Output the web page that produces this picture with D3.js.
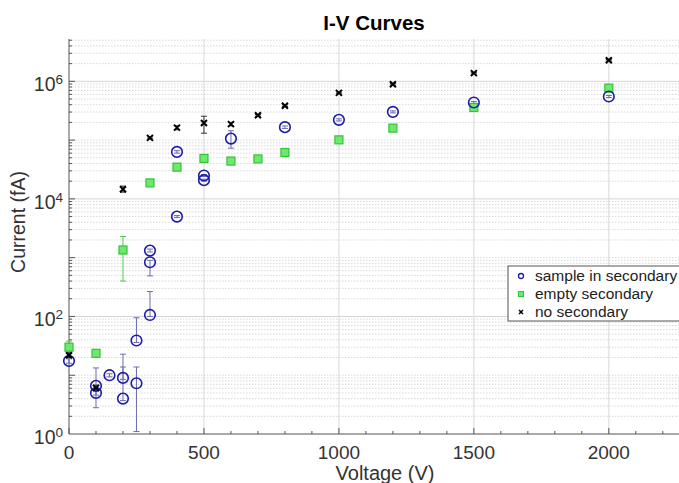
<!DOCTYPE html>
<html>
<head>
<meta charset="utf-8">
<script src="https://cdn.jsdelivr.net/npm/d3@7"></script>
<style>
  body { margin: 0; background: #fff; }
  svg { font-family: "Liberation Sans", Arial, sans-serif; }
</style>
</head>
<body>
<div id="chart"></div>
<script>
  const width = 679, height = 483;

  // sample in secondary
  const sampleV  = [0, 100, 100, 150, 200, 200, 250, 250, 300, 300, 300, 400, 400, 500, 500, 600, 800, 1000, 1200, 1500, 2000];
  const sampleI  = [17.5, 6.6, 5.0, 10, 9.0, 4.0, 39, 7.3, 1320, 835, 106, 63000, 5000, 25000, 20800, 106000, 166000, 221000, 302000, 436000, 552000];
  const sampleLo = [16, 2.8, 4.6, 9.4, 8.5, 3.7, 36, 1.1, 1250, 490, 100, 60000, 4800, 24000, 20000, 73000, 158000, 212000, 290000, 420000, 530000];
  const sampleHi = [19, 13.3, 5.4, 10.6, 22.8, 13.8, 95, 13.8, 1400, 900, 265, 66000, 5200, 26000, 21600, 144000, 174000, 230000, 314000, 452000, 574000];

  // empty secondary
  const emptyV  = [0, 100, 200, 300, 400, 500, 600, 700, 800, 1000, 1200, 1500, 2000];
  const emptyI  = [30, 23.6, 1350, 18700, 34700, 48700, 44000, 47900, 61600, 101000, 160000, 359000, 766000];
  const emptyLo = [27, 22, 400, 17800, 33000, 46000, 42000, 45500, 58500, 96000, 152000, 342000, 730000];
  const emptyHi = [38, 25, 2290, 19600, 36400, 51000, 46000, 50300, 64700, 106000, 168000, 376000, 800000];

  // no secondary
  const noneV  = [0, 100, 200, 300, 400, 500, 600, 700, 800, 1000, 1200, 1500, 2000];
  const noneI  = [21.8, 6.1, 14600, 109000, 163000, 195000, 187000, 264000, 385000, 635000, 894000, 1380000, 2290000];
  const noneLo = [20, 5.5, 13000, 105000, 150000, 131000, 175000, 256000, 373000, 616000, 867000, 1340000, 2220000];
  const noneHi = [24, 6.8, 16500, 113000, 175000, 255000, 200000, 272000, 397000, 654000, 921000, 1420000, 2360000];

  const xTicks = [0, 500, 1000, 1500, 2000];
  const yTickExp = [0, 2, 4, 6];
  const legendLabels = ['sample in secondary', 'empty secondary', 'no secondary'];

  const pLeft = 69, pRight = 679, pTop = 39, pBottom = 434;

  const svg = d3.select('#chart').append('svg')
    .attr('width', width).attr('height', height);

  const x = d3.scaleLinear().domain([0, 2260]).range([pLeft, pRight]);
  const y = d3.scaleLog().domain([1, Math.pow(10, 6.72)]).range([pBottom, pTop]);

  const isDecade = d => Math.abs(Math.log10(d) - Math.round(Math.log10(d))) < 1e-9;
  const isLabelled = d => isDecade(d) && yTickExp.includes(Math.round(Math.log10(d)));

  // grid
  const grid = svg.append('g');
  const minorY = [];
  for (let e = 0; e <= 6; e++) {
    for (let m = 1; m <= 9; m++) {
      const v = m * Math.pow(10, e);
      if (v > 1 && v <= y.domain()[1]) minorY.push(v);
    }
  }
  grid.selectAll('line.my').data(minorY).join('line')
    .attr('x1', pLeft).attr('x2', pRight)
    .attr('y1', d => y(d)).attr('y2', d => y(d))
    .attr('stroke', d => isLabelled(d) ? '#d4d4d4' : '#d8d8d8')
    .attr('stroke-dasharray', d => isLabelled(d) ? null : '1.5,1.5')
    .attr('stroke-width', 1);
  grid.selectAll('line.mx').data(xTicks.filter(d => d > 0)).join('line')
    .attr('x1', d => x(d)).attr('x2', d => x(d))
    .attr('y1', pTop).attr('y2', pBottom)
    .attr('stroke', '#d8d8d8');

  // axes
  const ax = svg.append('g').attr('stroke', '#555').attr('stroke-width', 1);
  ax.append('line').attr('x1', pLeft).attr('x2', pRight).attr('y1', pBottom).attr('y2', pBottom);
  ax.append('line').attr('x1', pLeft).attr('x2', pLeft).attr('y1', pTop).attr('y2', pBottom);
  ax.selectAll('line.xt').data(d3.range(0, 2300, 100)).join('line')
    .attr('x1', d => x(d)).attr('x2', d => x(d))
    .attr('y1', pBottom).attr('y2', d => pBottom - (d % 500 === 0 ? 6 : 3));
  ax.selectAll('line.yt').data(minorY).join('line')
    .attr('y1', d => y(d)).attr('y2', d => y(d))
    .attr('x1', pLeft).attr('x2', d => pLeft + (isDecade(d) ? 6 : 3));

  svg.append('g').selectAll('text').data(xTicks).join('text')
    .attr('x', d => x(d)).attr('y', 459)
    .attr('text-anchor', 'middle').attr('font-size', 19).attr('fill', '#333')
    .text(d => d);

  const yl = svg.append('g').selectAll('text').data(yTickExp).join('text')
    .attr('x', 63).attr('y', d => y(Math.pow(10, d)) + 10)
    .attr('text-anchor', 'end').attr('font-size', 19.5).attr('fill', '#333');
  yl.append('tspan').text('10');
  yl.append('tspan').attr('dy', -7).attr('font-size', 13.5).text(d => d);

  svg.append('text').attr('x', 374).attr('y', 30).attr('text-anchor', 'middle')
    .attr('font-size', 20.5).attr('font-weight', 'bold').text('I-V Curves');
  svg.append('text').attr('x', 385).attr('y', 480).attr('text-anchor', 'middle')
    .attr('font-size', 20).attr('fill', '#333').text('Voltage (V)');
  svg.append('text').attr('transform', 'translate(25,222) rotate(-90)')
    .attr('text-anchor', 'middle').attr('font-size', 19.5).attr('fill', '#333').text('Current (fA)');

  function series(V, I, lo, hi, barColor) {
    return V.map((v, i) => ({ v, i: I[i], lo: lo[i], hi: hi[i], c: barColor }));
  }
  const sData = series(sampleV, sampleI, sampleLo, sampleHi, '#6b6bb0');
  const eData = series(emptyV, emptyI, emptyLo, emptyHi, '#55c855');
  const nData = series(noneV, noneI, noneLo, noneHi, '#333');

  function errorBars(data) {
    const g = svg.append('g');
    data.forEach(d => {
      g.append('line').attr('x1', x(d.v)).attr('x2', x(d.v))
        .attr('y1', y(d.lo)).attr('y2', y(d.hi)).attr('stroke', d.c).attr('stroke-width', 1);
      [d.lo, d.hi].forEach(b => {
        g.append('line').attr('x1', x(d.v) - 3).attr('x2', x(d.v) + 3)
          .attr('y1', y(b)).attr('y2', y(b)).attr('stroke', d.c).attr('stroke-width', 1);
      });
    });
  }
  errorBars(eData);
  errorBars(sData);
  errorBars(nData);

  svg.append('g').selectAll('rect').data(eData).join('rect')
    .attr('x', d => x(d.v) - 4).attr('y', d => y(d.i) - 4)
    .attr('width', 8).attr('height', 8)
    .attr('fill', '#6fe86f').attr('stroke', '#33c433').attr('stroke-width', 1.2);
  svg.append('g').selectAll('circle').data(sData).join('circle')
    .attr('cx', d => x(d.v)).attr('cy', d => y(d.i)).attr('r', 5.3)
    .attr('fill', 'none').attr('stroke', '#1c1ca8').attr('stroke-width', 1.6);
  svg.append('g').selectAll('path').data(nData).join('path')
    .attr('d', d => `M${x(d.v) - 3},${y(d.i) - 3}L${x(d.v) + 3},${y(d.i) + 3}M${x(d.v) - 3},${y(d.i) + 3}L${x(d.v) + 3},${y(d.i) - 3}`)
    .attr('stroke', '#000').attr('stroke-width', 2);

  // legend
  const lg = svg.append('g');
  lg.append('rect').attr('x', 508).attr('y', 266).attr('width', 172).attr('height', 55)
    .attr('fill', '#fff').attr('stroke', '#555');
  legendLabels.forEach((t, k) => {
    const cy = 276 + k * 18;
    lg.append('text').attr('x', 535).attr('y', cy + 5).attr('font-size', 15.5).attr('fill', '#222').text(t);
  });
  lg.append('circle').attr('cx', 521).attr('cy', 276).attr('r', 2.5)
    .attr('fill', 'none').attr('stroke', '#1c1ca8').attr('stroke-width', 1.3);
  lg.append('rect').attr('x', 518.5).attr('y', 291.5).attr('width', 5).attr('height', 5)
    .attr('fill', '#6fe86f').attr('stroke', '#33c433');
  lg.append('path').attr('d', 'M519,310L523,314M519,314L523,310').attr('stroke', '#000').attr('stroke-width', 1.5);
</script>
</body>
</html>
